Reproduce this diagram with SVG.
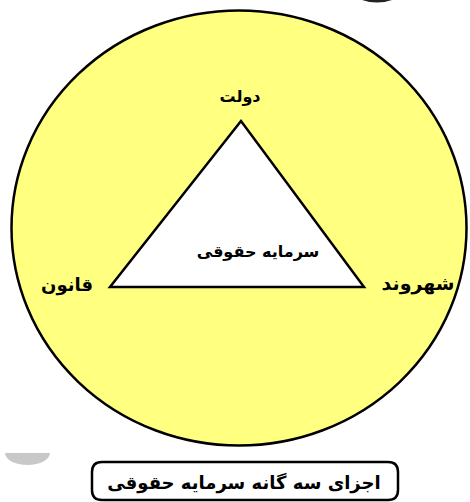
<svg xmlns="http://www.w3.org/2000/svg" width="470" height="502" viewBox="0 0 470 502">
<style>
.t{font-family:"DejaVu Sans",sans-serif;font-weight:bold;fill:#000;text-anchor:middle;direction:rtl}
</style>
<rect width="470" height="502" fill="#fff"/>
<path d="M362,0 Q377,5 392,0 Z" fill="#222"/>
<path d="M5,453 A22.5,12 0 0 0 50,453 Z" fill="#c8c8c8"/>
<g id="circle">
<ellipse cx="239" cy="228" rx="227.5" ry="217.5" fill="#ffff80" stroke="#000" stroke-width="2.5"/>
</g>
<g id="triangle">
<polygon points="241,121 110,287 364,287" fill="#fff" stroke="#000" stroke-width="2.5" stroke-linejoin="miter"/>
<text class="t" x="258" y="257" font-size="16">سرمایه حقوقی</text>
</g>
<g id="dowlat"><text class="t" x="240" y="102" font-size="16">دولت</text></g>
<g id="ghanun"><text class="t" x="67" y="291" font-size="18">قانون</text></g>
<g id="shahrvand"><text class="t" x="418" y="290" font-size="19">شهروند</text></g>
<g id="caption">
<path d="M102,462 H388 Q398,462 398,472 V490 Q398,500 388,500 H102 Q92,500 92,490 V472 Q92,462 102,462 Z" fill="#fff" stroke="#000" stroke-width="2.5"/>
<text class="t" x="244" y="489" font-size="18">اجزای سه گانه سرمایه حقوقی</text>
</g>
</svg>
